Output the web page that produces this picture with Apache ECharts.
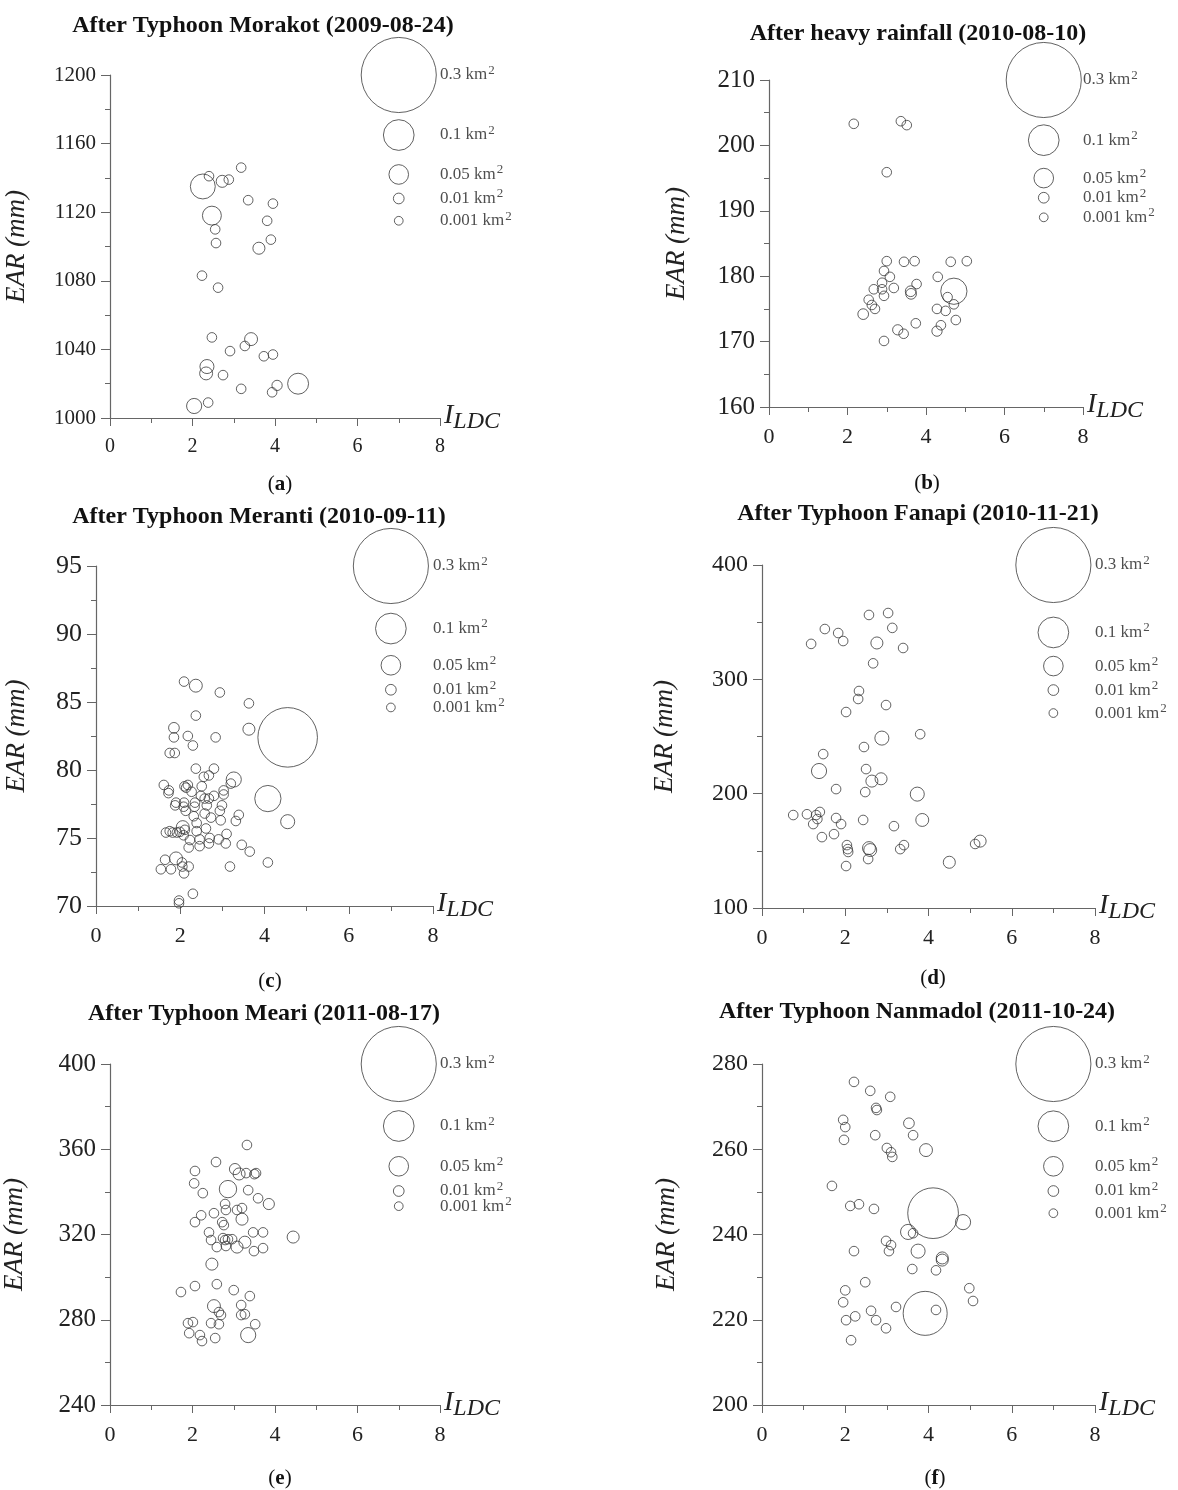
<!DOCTYPE html>
<html lang="en">
<head>
    <meta charset="UTF-8">
    <title>EAR vs I_LDC</title>
    <style>
        body { margin: 0; background: #fff; }
    </style>
</head>
<body>
<div id="main" style="width: 1178px;height:1490px;"></div>
<script src="https://cdn.jsdelivr.net/npm/echarts@6/dist/echarts.min.js"></script>
<script type="text/javascript">
    // [I_LDC, EAR, area km2]; area left out = small landslide (~0.005)
    var morakot = [[3.18,1146],[2.40,1141],[2.25,1135,0.074],[2.72,1138,0.016],[2.88,1139],[3.35,1127],[3.95,1125],
        [2.47,1118,0.047],[2.55,1110],[3.81,1115],[2.57,1102],[3.90,1104],[3.61,1099,0.016],[2.23,1083],[2.62,1076],
        [2.47,1047],[3.42,1046,0.02],[3.27,1042],[2.91,1039],[3.73,1036],[3.95,1037],[2.35,1030,0.025],[2.33,1026,0.02],
        [2.74,1025],[3.18,1017],[4.05,1019,0.008],[3.93,1015],[4.56,1020,0.056],[2.04,1007,0.03],[2.38,1009]];
    var rainfall = [[2.16,203.3],[3.36,203.7],[3.51,203.1],[3.0,195.9],[3.0,182.3],[3.44,182.2],[3.71,182.3],[4.63,182.2],
        [5.04,182.3],[2.93,180.8],[3.08,179.9],[2.88,179],[2.67,178],[2.88,178],[3.18,178.2],[3.76,178.8],[3.61,177.7,0.01],
        [3.62,177.3,0.01],[4.3,179.9],[4.71,177.7,0.08],[2.93,177],[2.54,176.4],[2.62,175.6],[2.7,175],[2.4,174.2,0.01],
        [4.55,176.8],[4.71,175.7],[4.28,175],[4.5,174.7],[4.76,173.3],[3.74,172.8],[3.28,171.8,0.008],[3.43,171.2],
        [4.38,172.5],[4.28,171.6,0.008],[2.93,170.1]];
    var meranti = [[2.09,86.5],[2.37,86.2,0.02],[2.94,85.7],[3.63,84.9],[2.37,84.0],[1.85,83.1,0.01],[3.63,83.0,0.016],
        [4.55,82.4,0.23],[1.85,82.4],[2.18,82.5],[2.84,82.4],[2.30,81.8],[1.75,81.25],[1.87,81.25],[2.37,80.1],[2.80,80.1],
        [3.27,79.3,0.03],[2.56,79.5],[2.68,79.6],[3.20,79.0],[1.61,78.9],[2.10,78.8],[2.18,78.9],[2.14,78.7],[2.51,78.8],
        [1.73,78.5],[1.72,78.3],[2.27,78.4],[3.03,78.5],[3.03,78.2],[2.49,78.1],[2.58,77.9],[2.68,77.9],[2.80,78.1],
        [4.08,77.9,0.08],[1.90,77.6],[1.88,77.4],[2.09,77.6],[2.08,77.3],[2.35,77.6],[2.34,77.3],[2.99,77.4],[2.63,77.4],
        [2.13,77.0],[2.94,77.0],[2.58,76.8],[3.39,76.7],[2.32,76.6],[2.73,76.5],[2.96,76.3],[3.32,76.25],[4.55,76.2,0.025],
        [2.39,76.1],[2.06,75.8,0.02],[2.61,75.7],[1.66,75.4],[1.75,75.5],[1.82,75.4],[1.92,75.4],[1.99,75.45],[2.11,75.6],
        [2.08,75.2],[2.39,75.5],[3.10,75.3],[2.23,74.85],[2.46,74.9],[2.46,74.4],[2.70,75.0],[2.68,74.6],[2.91,74.9],
        [3.08,74.6],[3.46,74.5],[3.65,74.0],[2.20,74.3],[1.64,73.4],[1.90,73.5,0.02],[2.04,73.2],[2.05,72.9],[2.20,72.9],
        [1.54,72.7],[1.78,72.7],[2.09,72.4],[3.18,72.9],[4.08,73.2],[2.30,70.9],[1.97,70.4],[1.97,70.2]];
    var fanapi = [[2.57,356.3],[3.03,358],[3.13,345],[1.51,344],[1.83,340.5],[1.95,333.5],[1.18,331],[2.76,331.8,0.016],
        [3.39,327.4],[2.67,314],[2.33,289.8],[2.31,282.8],[2.98,277.5],[2.02,271.4],[2.88,248.6,0.025],[3.8,252],
        [2.45,240.8],[1.47,234.6],[1.37,219.8,0.03],[2.5,221.5],[2.64,211,0.016],[2.86,213,0.016],[1.78,204],[2.48,201.4],
        [3.73,199.6,0.025],[0.75,181.3],[1.08,182],[1.39,184],[1.3,181.3],[1.33,177.8],[1.23,173.4],[1.78,178.7],
        [1.9,173.4],[2.43,177],[3.17,171.6],[3.85,177,0.02],[1.44,162],[1.73,164.6],[2.04,155],[2.07,149],[2.06,151.5],
        [2.57,152.4,0.02],[2.6,150.7,0.02],[2.55,142.8],[2.02,136.7],[3.41,155],[3.32,151.5],[4.5,140,0.016],
        [5.24,158.5,0.016],[5.12,156]];
    var meari = [[3.32,362],[2.57,354],[2.06,349.8],[3.03,350.7,0.012],[3.13,348.4,0.016],[3.3,348.8],[3.54,348.8],
        [3.5,348.3],[2.04,344],[2.86,341.3,0.04],[2.25,339.4],[3.35,340.8],[3.59,337],[3.85,334.3,0.012],[2.79,334.3],
        [2.52,330],[2.21,329],[2.81,331.5],[3.08,331.5],[3.2,332.4],[3.2,327.2,0.016],[2.06,325.8],[2.72,325.8],
        [2.76,324.4],[2.4,321],[2.74,318.3],[2.79,317.4],[2.86,317.8],[2.96,317.8],[2.45,317.4],[2.59,314.1],[2.81,314.6],
        [3.08,314.1,0.016],[3.27,316.4,0.016],[3.47,321],[3.71,321],[3.49,312.2],[3.71,313.6],[4.44,318.8,0.016],
        [2.47,306.1,0.016],[2.06,295.8],[2.59,296.7],[1.72,293],[3.0,293.9],[3.39,291.1],[2.52,286.4,0.02],[2.64,283.6],
        [2.69,282.2],[3.18,286.9],[3.18,282.2],[3.27,282.6],[1.89,278.4],[2.01,278.9],[2.45,278.4],[2.64,277.9],
        [3.52,277.9],[1.92,273.7],[2.18,272.8],[2.23,270],[2.55,271.4],[3.35,272.8,0.03]];
    var nanmadol = [[2.21,275.8],[2.6,273.7],[3.08,272.3],[2.74,269.7],[2.76,269.2],[1.95,266.9],[2.0,265.2],[1.97,262.2],
        [3.53,266.1,0.01],[3.63,263.3],[2.72,263.3],[3.0,260.3],[3.1,259.3],[3.13,258.2],[3.94,259.8,0.02],[1.68,251.4],
        [2.12,246.7],[2.33,247.1],[2.69,246],[4.11,245,0.19],[4.83,242.9,0.03],[3.51,240.6,0.03],[3.63,240.3],
        [2.98,238.5],[3.1,237.5],[3.05,236.1],[3.75,236.1,0.025],[2.21,236.1],[4.33,234.5,0.016],[4.33,234,0.016],
        [3.61,231.9],[4.18,231.6],[2.48,228.8],[2.0,226.9],[1.95,224.1],[4.98,227.4],[5.07,224.4],[2.62,222.1],
        [3.22,223],[3.92,221.5,0.16],[4.18,222.3],[2.02,219.9],[2.24,220.8],[2.74,219.9],[2.98,218],[2.14,215.2]];

    // size legend: areas, labels and the EAR level each legend circle sits at (x = 7)
    var legendAreas = [0.3, 0.1, 0.05, 0.01, 0.001];
    var legendLabels = ['0.3', '0.1', '0.05', '0.01', '0.001'];
    var legendY = {
        a: [1200, 1165, 1142, 1128, 1115],
        b: [210, 200.8, 195, 192, 189],
        c: [95, 90.4, 87.7, 85.9, 84.6],
        d: [400, 341, 311.6, 290.6, 270.5],
        e: [400, 370.9, 352, 340.4, 333.3],
        f: [280, 265.4, 256, 250.2, 245]
    };
    var titles = ['After Typhoon Morakot (2009-08-24)', 'After heavy rainfall (2010-08-10)',
        'After Typhoon Meranti (2010-09-11)', 'After Typhoon Fanapi (2010-11-21)',
        'After Typhoon Meari (2011-08-17)', 'After Typhoon Nanmadol (2011-10-24)'];
    var letters = ['a', 'b', 'c', 'd', 'e', 'f'];
    var xTicks = [0, 2, 4, 6, 8];

    var serif = 'Liberation Serif';
    var ink = '#3a3a3a';

    // layout of the six panels
    var panels = [
        {pts: morakot,  grid: {left: 110, top: 75,   width: 330, height: 343}, min: 1000, max: 1200, step: 40,  yFont: 21, xFont: 20, gap: 80, tx: 258, ty: 9,   lx: 275, ly: 469},
        {pts: rainfall, grid: {left: 769, top: 80,   width: 314, height: 327}, min: 160,  max: 210,  step: 10,  yFont: 25, xFont: 22, gap: 79, tx: 913, ty: 17,  lx: 922, ly: 468},
        {pts: meranti,  grid: {left: 96,  top: 566,  width: 337, height: 340}, min: 70,   max: 95,   step: 5,   yFont: 26, xFont: 22, gap: 66, tx: 254, ty: 500, lx: 265, ly: 966},
        {pts: fanapi,   grid: {left: 762, top: 565,  width: 333, height: 343}, min: 100,  max: 400,  step: 100, yFont: 24, xFont: 22, gap: 84, tx: 913, ty: 497, lx: 928, ly: 963},
        {pts: meari,    grid: {left: 110, top: 1064, width: 330, height: 341}, min: 240,  max: 400,  step: 40,  yFont: 25, xFont: 22, gap: 82, tx: 259, ty: 997, lx: 275, ly: 1463},
        {pts: nanmadol, grid: {left: 762, top: 1064, width: 333, height: 341}, min: 200,  max: 280,  step: 20,  yFont: 24, xFont: 22, gap: 82, tx: 912, ty: 995, lx: 930, ly: 1463}
    ];

    function bubbleSize(v) {
        var a = v[2] == null ? 0.005 : v[2];
        return 8.5 + 222 * a;
    }

    var option = {
        backgroundColor: '#fff',
        animation: false,
        title: [],
        grid: [],
        xAxis: [],
        yAxis: [],
        series: []
    };

    panels.forEach(function (p, i) {
        option.grid.push(p.grid);
        option.title.push({
            text: titles[i], left: p.tx, top: p.ty, textAlign: 'center',
            textStyle: {fontFamily: serif, fontWeight: 'bold', fontSize: 24, color: '#111'}
        });
        option.title.push({
            text: '({b|' + letters[i] + '})', left: p.lx, top: p.ly, textAlign: 'center',
            textStyle: {fontFamily: serif, fontWeight: 'normal', fontSize: 21, color: '#111',
                rich: {b: {fontFamily: serif, fontWeight: 'bold', fontSize: 21, color: '#111'}}}
        });
        option.xAxis.push({
            gridIndex: i, type: 'value', min: 0, max: 8, interval: 2,
            name: '{i|I}{s|LDC}', nameLocation: 'end', nameGap: 4,
            nameTextStyle: {
                padding: [0, 0, 4, 0],
                rich: {
                    i: {fontFamily: serif, fontStyle: 'italic', fontSize: 28, color: '#222'},
                    s: {fontFamily: serif, fontStyle: 'italic', fontSize: 24, color: '#222', padding: [12, 0, 0, 0]}
                }
            },
            axisLine: {show: true, lineStyle: {color: '#666', width: 1.2}},
            axisTick: {show: true, length: 8, lineStyle: {color: '#666'}},
            minorTick: {show: true, splitNumber: 2, length: 5, lineStyle: {color: '#666'}},
            splitLine: {show: false},
            axisLabel: {fontFamily: serif, fontSize: p.xFont, color: '#222', margin: 19,
                customValues: xTicks}
        });
        option.yAxis.push({
            gridIndex: i, type: 'value', min: p.min, max: p.max, interval: p.step,
            name: 'EAR (mm)', nameLocation: 'middle', nameGap: p.gap, nameRotate: 90,
            nameTextStyle: {fontFamily: serif, fontStyle: 'italic', fontSize: 27, color: '#222'},
            axisLine: {show: true, lineStyle: {color: '#666', width: 1.2}},
            axisTick: {show: true, length: 9, lineStyle: {color: '#666'}},
            minorTick: {show: true, splitNumber: 2, length: 5, lineStyle: {color: '#666'}},
            splitLine: {show: false},
            axisLabel: {fontFamily: serif, fontSize: p.yFont, color: '#222', margin: 14,
                formatter: function (v) { return String(v); }}
        });
        option.series.push({
            type: 'scatter', xAxisIndex: i, yAxisIndex: i, clip: false,
            data: p.pts, symbol: 'circle', symbolSize: bubbleSize,
            itemStyle: {color: 'rgba(0,0,0,0)', borderColor: ink, borderWidth: 1}
        });
        var ly = legendY[letters[i]];
        option.series.push({
            type: 'scatter', xAxisIndex: i, yAxisIndex: i, clip: false,
            data: legendAreas.map(function (a, k) { return [7, ly[k], a]; }),
            symbol: 'circle', symbolSize: bubbleSize,
            itemStyle: {color: 'rgba(0,0,0,0)', borderColor: ink, borderWidth: 1}
        });
        option.series.push({
            type: 'scatter', xAxisIndex: i, yAxisIndex: i, clip: false,
            data: legendLabels.map(function (t, k) { return {value: [8, ly[k]], name: t}; }),
            symbolSize: 0,
            label: {
                show: true, position: 'right', distance: 0,
                formatter: function (d) { return '{t|' + d.name + ' km}{sup|2}'; },
                rich: {
                    t: {fontFamily: serif, fontSize: 17, color: '#222'},
                    sup: {fontFamily: serif, fontSize: 13, color: '#222', padding: [0, 0, 9, 1]}
                }
            }
        });
    });

    var myChart = echarts.init(document.getElementById('main'));
    myChart.setOption(option);
</script>
</body>
</html>
